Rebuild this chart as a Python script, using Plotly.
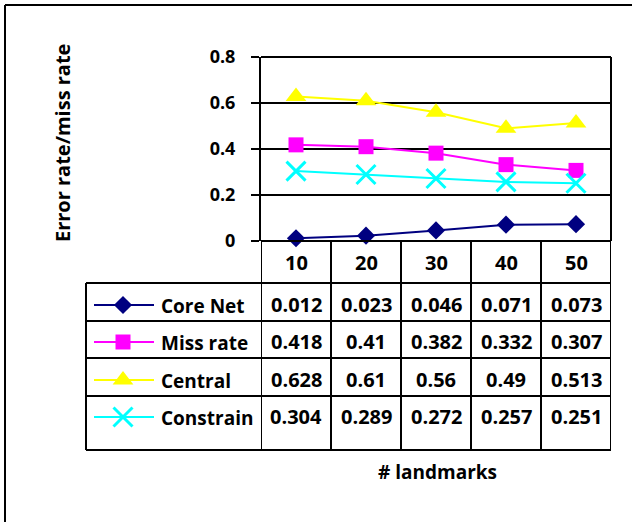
import plotly.graph_objects as go

# ---------------- data ----------------
landmarks = [10, 20, 30, 40, 50]
series_names = ["Core Net", "Miss rate", "Central", "Constrain"]
core_net = [0.012, 0.023, 0.046, 0.071, 0.073]
miss_rate = [0.418, 0.41, 0.382, 0.332, 0.307]
central = [0.628, 0.61, 0.56, 0.49, 0.513]
constrain = [0.304, 0.289, 0.272, 0.257, 0.251]
y_ticks = [0, 0.2, 0.4, 0.6, 0.8]
y_tick_labels = ["0", "0.2", "0.4", "0.6", "0.8"]

# ---------------- styles ----------------
W, H = 632, 522
FONT = "Open Sans"
colors = ["#000080", "#FF00FF", "#FFFF00", "#00FFFF"]
symbols = ["diamond", "square", "triangle-up", "x-thin-open"]
msizes = [14, 15, 18, 19]
all_series = [core_net, miss_rate, central, constrain]

# layout geometry (pixels)
plot_left, plot_right = 261, 611
plot_top, plot_bottom = 57, 241
table_left = 86
row_edges = [241, 283, 321, 358, 396, 450]
row_text_y = [304, 341, 379, 416]
header_text_y = 262
legend_line = (94, 154)
legend_marker_x = 123
legend_text_x = 159


def px(x):
    return x / W


def py(y):
    return 1 - y / H


fig = go.Figure()

for name, vals, c, s, ms in zip(series_names, all_series, colors, symbols, msizes):
    is_x = s.startswith("x")
    fig.add_trace(go.Scatter(
        x=landmarks, y=vals, mode="lines+markers", name=name,
        line=dict(color=c, width=2),
        marker=dict(symbol=s, size=ms, color=c,
                    line=dict(color=c, width=3 if is_x else 0)),
        cliponaxis=False, showlegend=False, xaxis="x", yaxis="y",
    ))

# legend keys inside the table (pixel axes covering the page)
for i, (name, c, s, ms) in enumerate(zip(series_names, colors, symbols, msizes)):
    is_x = s.startswith("x")
    yy = row_text_y[i] + 1
    fig.add_trace(go.Scatter(
        x=[legend_line[0], legend_line[1]], y=[yy, yy], mode="lines",
        line=dict(color=c, width=2), showlegend=False,
        xaxis="x2", yaxis="y2", hoverinfo="skip", cliponaxis=False,
    ))
    fig.add_trace(go.Scatter(
        x=[legend_marker_x], y=[yy], mode="markers",
        marker=dict(symbol=s, size=ms, color=c,
                    line=dict(color=c, width=3 if is_x else 0)),
        showlegend=False, xaxis="x2", yaxis="y2", hoverinfo="skip", cliponaxis=False,
    ))

shapes = []
LW = 2
blk = dict(color="black", width=LW)

# plot area borders
shapes.append(dict(type="line", xref="paper", yref="paper",
                   x0=px(plot_left), x1=px(plot_right), y0=py(plot_top), y1=py(plot_top), line=blk))
shapes.append(dict(type="line", xref="paper", yref="paper",
                   x0=px(plot_right), x1=px(plot_right), y0=py(plot_top), y1=py(plot_bottom), line=blk))

# table horizontal lines
for k, yy in enumerate(row_edges):
    x0 = plot_left if k == 0 else table_left
    shapes.append(dict(type="line", xref="paper", yref="paper",
                       x0=px(x0), x1=px(plot_right), y0=py(yy), y1=py(yy), line=blk))
# table vertical lines: column edges via data axis
col_edges = [landmarks[0] - 5] + [v + 5 for v in landmarks]
for xv in col_edges:
    shapes.append(dict(type="line", xref="x", yref="paper",
                       x0=xv, x1=xv, y0=py(row_edges[0]), y1=py(row_edges[-1]), line=blk))
shapes.append(dict(type="line", xref="paper", yref="paper",
                   x0=px(table_left), x1=px(table_left), y0=py(row_edges[1]), y1=py(row_edges[-1]), line=blk))

# outer frame (cropped at right/bottom)
shapes.append(dict(type="line", xref="paper", yref="paper",
                   x0=px(5), x1=px(W), y0=py(5), y1=py(5), line=blk))
shapes.append(dict(type="line", xref="paper", yref="paper",
                   x0=px(5), x1=px(5), y0=py(5), y1=py(H), line=blk))

annotations = []
tf = dict(family=FONT, size=20, color="black", weight="bold")
lf = dict(family=FONT, size=19, color="black", weight="bold")
for xv in landmarks:
    annotations.append(dict(x=xv, y=py(header_text_y), xref="x", yref="paper",
                            text=str(xv), showarrow=False, font=tf,
                            xanchor="center", yanchor="middle"))
for i, vals in enumerate(all_series):
    for xv, v in zip(landmarks, vals):
        annotations.append(dict(x=xv, y=py(row_text_y[i]), xref="x", yref="paper",
                                text=f"{v:g}", showarrow=False, font=tf,
                                xanchor="center", yanchor="middle"))
    annotations.append(dict(x=px(legend_text_x), y=py(row_text_y[i] + 2), xref="paper", yref="paper",
                            text=series_names[i], showarrow=False, font=lf,
                            xanchor="left", yanchor="middle"))

annotations.append(dict(x=px(437), y=py(472), xref="paper", yref="paper",
                        text="# landmarks", showarrow=False,
                        font=dict(family=FONT, size=19, color="black", weight="bold"),
                        xanchor="center", yanchor="middle"))
annotations.append(dict(x=px(62), y=py(143), xref="paper", yref="paper",
                        text="Error rate/miss rate", showarrow=False, textangle=-90,
                        font=dict(family=FONT, size=20, color="black", weight="bold"),
                        xanchor="center", yanchor="middle"))

fig.update_layout(
    width=W, height=H,
    margin=dict(l=0, r=0, t=0, b=0, pad=0, autoexpand=False),
    paper_bgcolor="white", plot_bgcolor="rgba(0,0,0,0)",
    showlegend=False,
    xaxis=dict(domain=[px(plot_left), px(plot_right)], range=[5, 55],
               showticklabels=False, showgrid=False, zeroline=False,
               showline=False, ticks="", anchor="y", automargin=False),
    yaxis=dict(domain=[py(plot_bottom), py(plot_top)], range=[0, 0.8],
               tickvals=y_ticks, ticktext=y_tick_labels,
               ticks="outside", ticklen=8, tickwidth=2, tickcolor="black",
               showline=True, linewidth=2, linecolor="black",
               showgrid=True, gridcolor="black", gridwidth=2,
               zeroline=False, ticklabelstandoff=12, anchor="x", automargin=False,
               tickfont=dict(family=FONT, size=18, color="black", weight="bold")),
    xaxis2=dict(domain=[0, 1], range=[0, W], visible=False, anchor="y2", automargin=False),
    yaxis2=dict(domain=[0, 1], range=[H, 0], visible=False, anchor="x2", automargin=False),
    shapes=shapes, annotations=annotations,
)

fig.write_html(
    "out.html",
    config={"displayModeBar": False},
    post_script=(
        "document.body.style.margin='0';document.body.style.overflow='hidden';"
        "var d=document.getElementById('{plot_id}');"
        "d.style.position='absolute';d.style.top='0px';d.style.left='0px';"
    ),
)
